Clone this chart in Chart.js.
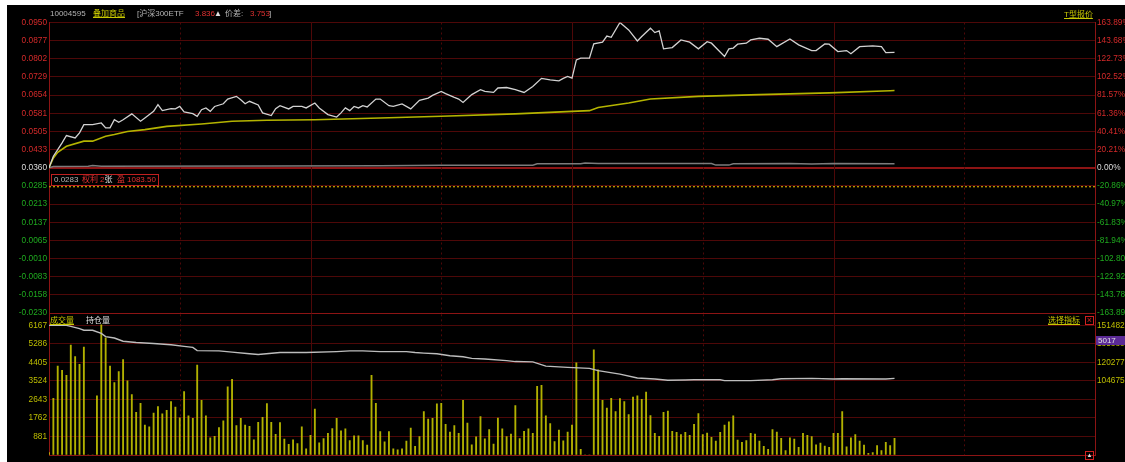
<!DOCTYPE html>
<html>
<head>
<meta charset="utf-8">
<script src="https://cdn.jsdelivr.net/npm/chart.js@4"></script>
<style>
body{margin:0;background:#fff;width:1125px;height:462px;overflow:hidden;position:relative;font-family:'Liberation Sans','Noto Sans CJK SC',sans-serif;font-size:8px}
#bg{position:absolute;left:7px;top:5px;right:0;bottom:0;background:#000}
canvas{position:absolute;left:0}
.t{position:absolute;line-height:10px;white-space:nowrap}
.u{text-decoration:underline}
.y{color:#c8c800}
.r{color:#e03030}
.g{color:#b4b4b4}
.w{color:#e0e0e0}
</style>
</head>
<body>
<div id="bg"></div>
<canvas id="priceChart" width="1125" height="320" style="top:0"></canvas>
<canvas id="volChart" width="1125" height="162" style="top:300px"></canvas>

<div class="t g" style="left:50px;top:9px">10004595</div>
<div class="t y u" style="left:93px;top:9px">叠加商品</div>
<div class="t g" style="left:137px;top:9px">[沪深300ETF</div>
<div class="t r" style="left:195px;top:9px">3.836</div>
<div class="t w" style="left:214px;top:9px">▲</div>
<div class="t g" style="left:225px;top:9px">价差:</div>
<div class="t r" style="left:250px;top:9px">3.753</div>
<div class="t g" style="left:269px;top:9px">]</div>
<div class="t y u" style="left:1064px;top:10px">T型报价</div>

<div style="position:absolute;left:51px;top:174px;width:106px;height:10px;border:1px solid #c02020"></div>
<div class="t g" style="left:54px;top:175px">0.0283</div>
<div class="t r" style="left:82px;top:175px">权利</div>
<div class="t r" style="left:100px;top:175px">2<span class="w">张</span></div>
<div class="t r" style="left:117px;top:175px">盈</div>
<div class="t r" style="left:127px;top:175px">1083.50</div>

<div class="t y u" style="left:50px;top:316px">成交量</div>
<div class="t w" style="left:86px;top:316px">持仓量</div>
<div class="t y u" style="left:1048px;top:316px">选择指标</div>
<div style="position:absolute;left:1085px;top:316px;width:7px;height:7px;border:1px solid #d02020;color:#d02020;font-size:9px;line-height:7px;text-align:center">×</div>
<div class="t w" style="left:1096px;top:336px;width:29px;height:9px;line-height:9px;background:#5b2a96;padding-left:2px">5017</div>
<div style="position:absolute;left:1085px;top:451px;width:7px;height:7px;border:1px solid #d02020;color:#e0e0e0;font-size:6px;line-height:7px;text-align:center">▲</div>

<script>
// axis labels
const priceTickLabels = ['0.0950','0.0877','0.0802','0.0729','0.0654','0.0581','0.0505','0.0433','0.0360','0.0285','0.0213','0.0137','0.0065','-0.0010','-0.0083','-0.0158','-0.0230'];
const pctTickLabels = ['163.89%','143.68%','122.73%','102.52%','81.57%','61.36%','40.41%','20.21%','0.00%','-20.86%','-40.97%','-61.83%','-81.94%','-102.80%','-122.92%','-143.78%','-163.89%'];
const volTickLabels = ['6167','5286','4405','3524','2643','1762','881'];
const holdTickLabels = ['151482','135880','120277','104675'];

// option price (minute -> price)
const priceTimes = [0,1,2,3,4,6,7,8,10,12,13,14,15,16,17,19,21,22,24,25,26,28,29,30,31,33,34,35,36,37,38,40,41,43,44,45,46,48,49,51,52,53,55,56,58,59,61,62,64,66,67,68,69,70,71,72,73,75,76,78,79,81,83,85,87,88,90,91,93,94,95,97,99,100,102,103,105,107,109,111,113,115,117,118,119,120,121,122,124,125,127,128,129,131,133,135,136,138,139,140,141,143,145,147,149,151,152,155,156,157,158,160,161,163,165,167,170,172,175,176,178,179,181,183,184,186,189,191,192,194];
const priceValues = [0.0360,0.0407,0.0434,0.0461,0.0491,0.0481,0.0502,0.0535,0.0535,0.0542,0.0522,0.0522,0.0555,0.0545,0.0555,0.0579,0.0549,0.0562,0.0589,0.0616,0.0592,0.0600,0.0599,0.0609,0.0587,0.0580,0.0569,0.0596,0.0603,0.0589,0.0609,0.0620,0.0639,0.0650,0.0636,0.0620,0.0630,0.0615,0.0583,0.0572,0.0600,0.0612,0.0599,0.0609,0.0609,0.0603,0.0623,0.0603,0.0576,0.0566,0.0583,0.0603,0.0592,0.0609,0.0603,0.0612,0.0607,0.0639,0.0639,0.0612,0.0609,0.0619,0.0599,0.0634,0.0643,0.0654,0.0670,0.0661,0.0646,0.0639,0.0625,0.0657,0.0677,0.0670,0.0666,0.0684,0.0686,0.0677,0.0666,0.0690,0.0723,0.0717,0.0713,0.0723,0.0731,0.0724,0.0798,0.0805,0.0805,0.0863,0.0870,0.0895,0.0890,0.0950,0.0920,0.0875,0.0893,0.0927,0.0909,0.0916,0.0843,0.0848,0.0879,0.0870,0.0843,0.0872,0.0866,0.0812,0.0843,0.0846,0.0862,0.0866,0.0879,0.0886,0.0882,0.0852,0.0883,0.0859,0.0836,0.0836,0.0863,0.0862,0.0832,0.0836,0.0823,0.0852,0.0855,0.0852,0.0828,0.0829];

// average price
const avgTimes = [0,1,2,4,8,10,13,15,18,22,27,35,42,50,61,76,90,107,120,124,126,133,138,149,163,179,193,194];
const avgValues = [0.0360,0.0400,0.0423,0.0447,0.0468,0.0468,0.0488,0.0495,0.0507,0.0515,0.0528,0.0538,0.0549,0.0553,0.0555,0.0562,0.0569,0.0579,0.0589,0.0592,0.0605,0.0623,0.0639,0.0650,0.0657,0.0664,0.0673,0.0674];

// overlaid 沪深300ETF, % change
const etfTimes = [0,1,9,10,12,50,76,90,111,112,122,123,126,152,153,156,157,170,175,180,194];
const etfPct = [0,1.5,1.8,2.5,1.8,2.0,2.3,2.9,2.9,4.5,4.5,5.4,4.8,4.8,3.0,3.0,4.5,4.8,4.2,4.8,4.5];

const costPrice = 0.0283;

// volume per minute
const volumes = [120,2700,4235,4035,3790,5236,4680,4310,5140,0,0,2818,6200,5575,4235,3450,3975,4545,3525,2880,
2030,2465,1430,1340,2000,2310,1955,2125,2540,2280,1770,3020,1860,1740,4280,2600,1860,815,890,1310,
1630,3250,3600,1400,1740,1430,1370,720,1555,1790,2450,1555,985,1540,755,510,720,540,1340,290,
940,2190,585,785,1030,1260,1740,1155,1250,690,910,910,690,475,3790,2465,1110,630,1110,290,
245,290,660,1280,415,880,2065,1710,1740,2435,2465,1460,1095,1400,1030,2600,1525,490,860,1830,
770,1215,525,1755,1250,880,1000,2355,785,1125,1250,1030,3265,3310,1860,1495,645,1185,680,1095,
1430,4390,275,0,0,5005,4050,2600,2235,2700,2065,2680,2540,1925,2755,2820,2650,2990,1880,1030,
890,2030,2095,1125,1080,970,1080,940,1460,1970,970,1045,845,660,1080,1430,1585,1860,710,600,
690,1030,1000,660,415,275,1215,1095,800,215,815,755,370,1030,940,880,490,570,430,370,
1030,1030,2065,385,815,970,660,475,75,120,445,215,600,445,800];

// open interest
const holdTimes = [0,4,5,7,8,10,12,13,15,17,20,24,28,31,33,34,39,42,46,48,53,59,66,69,72,76,82,84,86,89,92,95,97,100,105,107,111,114,119,124,126,131,135,139,142,146,148,154,155,161,166,168,175,180,182,192,194];
const holdValues = [151482,151482,150665,148790,147400,147400,144700,142000,140860,138170,137100,136290,135140,133840,133020,130240,130000,128930,127550,126970,128610,128610,129430,130000,130000,129430,129430,128610,128120,127550,125910,125100,123710,123220,121830,121010,120770,117170,116110,115300,113410,110390,107120,106310,105250,105490,105740,105740,104920,104920,105740,106560,106880,106310,106560,106310,106880];

const gridDark = '#4e0808';
const gridBright = '#8c1414';
const red = '#d42a2a', green = '#1faa1f', white = '#dcdcdc', yellow = '#bebe00';

Chart.defaults.font.family = "'Liberation Sans', Arial, sans-serif";
Chart.defaults.font.size = 8.3;
Chart.defaults.animation = false;

const pts = (xs, ys) => xs.map((x, i) => ({x: x, y: ys[i]}));

const vgrid = {
  id: 'vgrid',
  beforeDatasetsDraw(chart) {
    const {ctx, chartArea: a, scales: {x}} = chart;
    ctx.save();
    ctx.lineWidth = 1;
    ctx.strokeStyle = gridDark;
    for (let m = 30; m < 240; m += 30) {
      const px = Math.round(x.getPixelForValue(m)) + 0.5;
      ctx.setLineDash(m % 60 ? [2, 3] : []);
      ctx.beginPath();
      ctx.moveTo(px, a.top);
      ctx.lineTo(px, a.bottom);
      ctx.stroke();
    }
    ctx.restore();
  }
};

const priceMax = Number(priceTickLabels[0]);
const priceMin = Number(priceTickLabels[priceTickLabels.length - 1]);
const preClose = Number(priceTickLabels[8]);
const pctMax = (priceMax - preClose) / preClose * 100;
const nSteps = priceTickLabels.length - 1;
const tickColor = i => i < 8 ? red : (i === 8 ? white : green);

new Chart(document.getElementById('priceChart'), {
  type: 'line',
  data: {
    datasets: [
      {data: pts(priceTimes, priceValues), borderColor: '#d2d2d2', borderWidth: 1.3, yAxisID: 'yP'},
      {data: pts(avgTimes, avgValues), borderColor: '#b4b400', borderWidth: 1.6, yAxisID: 'yP'},
      {data: pts(etfTimes, etfPct), borderColor: '#7c7c7c', borderWidth: 1.5, yAxisID: 'yR'},
      {data: [{x: 0, y: costPrice}, {x: 240, y: costPrice}], borderColor: '#d0a800', borderWidth: 1.2, borderDash: [2, 2], yAxisID: 'yP'}
    ]
  },
  options: {
    responsive: false,
    maintainAspectRatio: false,
    layout: {padding: {top: 22.5, bottom: 6, left: 0, right: 0}},
    elements: {point: {radius: 0}, line: {tension: 0}},
    plugins: {legend: {display: false}, tooltip: {enabled: false}},
    scales: {
      x: {type: 'linear', min: 0, max: 240, offset: false, display: false},
      yP: {
        position: 'left', min: priceMin, max: priceMax,
        afterFit: s => { s.width = 49; },
        afterBuildTicks: s => { s.ticks = priceTickLabels.map((_, i) => ({value: priceMax - i * (priceMax - priceMin) / nSteps})); },
        ticks: {callback: (v, i) => priceTickLabels[i], color: c => tickColor(c.index), padding: 2},
        grid: {
          drawTicks: false,
          color: c => (c.index === 8 || c.index === nSteps) ? gridBright : gridDark,
          lineWidth: c => c.index === 8 ? 2 : 1
        },
        border: {color: gridBright}
      },
      yR: {
        position: 'right', min: -pctMax, max: pctMax,
        afterFit: s => { s.width = 30; },
        afterBuildTicks: s => { s.ticks = pctTickLabels.map((_, i) => ({value: pctMax - i * 2 * pctMax / nSteps})); },
        ticks: {callback: (v, i) => pctTickLabels[i], color: c => tickColor(c.index), padding: 2},
        grid: {drawOnChartArea: false, drawTicks: false},
        border: {color: gridBright}
      }
    }
  },
  plugins: [vgrid]
});

const volStep = Number(volTickLabels[volTickLabels.length - 1]);
const volMax = Number(volTickLabels[0]) + 0.6 * volStep;
const holdTop = Number(holdTickLabels[0]);
const holdStep = holdTop - Number(holdTickLabels[1]);
const holdMin = holdTop - Number(volTickLabels[0]) / volStep * holdStep;
const holdMax = holdMin + volMax / volStep * holdStep;

new Chart(document.getElementById('volChart'), {
  type: 'bar',
  data: {
    datasets: [
      {type: 'line', data: pts(holdTimes, holdValues), borderColor: '#bdbdbd', borderWidth: 1.4, yAxisID: 'yH', pointRadius: 0, tension: 0},
      {type: 'bar', data: volumes.map((v, i) => ({x: i, y: v})), backgroundColor: 'rgba(196,196,0,0.9)', barThickness: 1.2, yAxisID: 'yV'}
    ]
  },
  options: {
    responsive: false,
    maintainAspectRatio: false,
    layout: {padding: {top: 14.3, bottom: 2.5, left: 0, right: 0}},
    plugins: {legend: {display: false}, tooltip: {enabled: false}},
    scales: {
      x: {type: 'linear', min: 0, max: 240, offset: false, display: false},
      yV: {
        position: 'left', min: 0, max: volMax,
        afterFit: s => { s.width = 49; },
        afterBuildTicks: s => { s.ticks = [0].concat(volTickLabels.map(Number)).map(v => ({value: v})); },
        ticks: {callback: v => v === 0 ? '' : String(v), color: yellow, padding: 2},
        grid: {drawTicks: false, color: c => c.tick && c.tick.value === 0 ? gridBright : gridDark},
        border: {color: gridBright}
      },
      yH: {
        position: 'right', min: holdMin, max: holdMax,
        afterFit: s => { s.width = 30; },
        afterBuildTicks: s => { s.ticks = holdTickLabels.map(v => ({value: Number(v)})); },
        ticks: {callback: v => String(v), color: yellow, padding: 2},
        grid: {drawOnChartArea: false, drawTicks: false},
        border: {color: gridBright}
      }
    }
  },
  plugins: [vgrid]
});
</script>
</body>
</html>
